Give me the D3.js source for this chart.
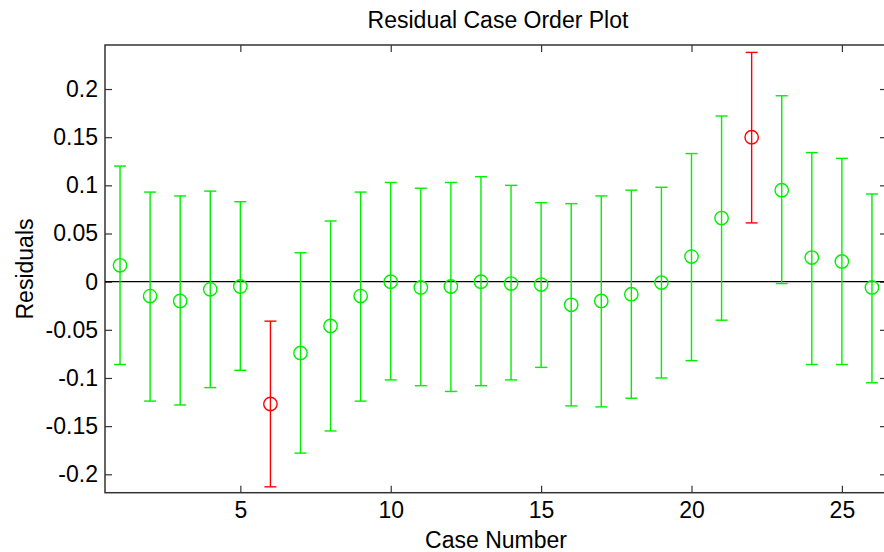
<!DOCTYPE html>
<html>
<head>
<meta charset="utf-8">
<script src="https://cdn.jsdelivr.net/npm/d3@7"></script>
<style>
  body { margin: 0; background: #fff; }
  svg { display: block; }
</style>
</head>
<body>
<div></div>
<script>
// residuals with their confidence intervals
var caseNo = [1, 2, 3, 4, 5, 6, 7, 8, 9, 10, 11, 12, 13, 14, 15, 16, 17, 18, 19, 20, 21, 22, 23, 24, 25, 26];
var resid = [0.017, -0.015, -0.020, -0.008, -0.005, -0.127, -0.074, -0.046, -0.015, 0.000,
             -0.006, -0.005, 0.000, -0.002, -0.003, -0.024, -0.020, -0.013, -0.001, 0.026,
             0.066, 0.150, 0.095, 0.025, 0.021, -0.006];
var ciLow = [-0.086, -0.124, -0.128, -0.110, -0.092, -0.213, -0.178, -0.155, -0.124, -0.102,
             -0.108, -0.114, -0.108, -0.102, -0.089, -0.129, -0.130, -0.121, -0.100, -0.082,
             -0.040, 0.061, -0.002, -0.086, -0.086, -0.105];
var ciHigh = [0.120, 0.093, 0.089, 0.094, 0.083, -0.041, 0.030, 0.063, 0.093, 0.103,
              0.097, 0.103, 0.109, 0.100, 0.082, 0.081, 0.089, 0.095, 0.098, 0.133,
              0.172, 0.238, 0.193, 0.134, 0.128, 0.091];
var xTicks = [5, 10, 15, 20, 25];
var yTicks = [-0.2, -0.15, -0.1, -0.05, 0, 0.05, 0.1, 0.15, 0.2];

var data = caseNo.map(function(c, i) {
    return {c: c, r: resid[i], lo: ciLow[i], hi: ciHigh[i]};
});

var width = 884, height = 552;
var plot = {left: 105, right: 887, top: 45, bottom: 492.7};

var x = d3.scaleLinear().domain([0.5, 26.5]).range([plot.left, plot.right]);
var y = d3.scaleLinear().domain([-0.2191, 0.2457]).range([plot.bottom, plot.top]);

var svg = d3.select("body").select("div").append("svg")
    .attr("width", width)
    .attr("height", height)
    .style("font-family", "Liberation Sans, Arial, sans-serif");

// outlier = interval does not contain zero
function col(d) { return (d.lo > 0 || d.hi < 0) ? "#ff0000" : "#00ee00"; }

// axes (ticks point inward)
var fmt = function(d) { return String(+d.toFixed(2)); };

svg.append("g")
    .attr("transform", "translate(" + plot.left + ",0)")
    .call(d3.axisLeft(y).tickValues(yTicks).tickSize(-7).tickPadding(7).tickFormat(fmt))
    .call(function(g) { g.select(".domain").remove(); });

svg.append("g")
    .attr("transform", "translate(" + plot.right + ",0)")
    .call(d3.axisRight(y).tickValues(yTicks).tickSize(-7).tickFormat(""))
    .call(function(g) { g.select(".domain").remove(); });

svg.append("g")
    .attr("transform", "translate(0," + plot.bottom + ")")
    .call(d3.axisBottom(x).tickValues(xTicks).tickSize(-7).tickPadding(9).tickFormat(d3.format("d")))
    .call(function(g) { g.select(".domain").remove(); });

svg.append("g")
    .attr("transform", "translate(0," + plot.top + ")")
    .call(d3.axisTop(x).tickValues(xTicks).tickSize(-7).tickFormat(""))
    .call(function(g) { g.select(".domain").remove(); });

svg.selectAll(".tick line").attr("stroke", "#333").attr("stroke-width", 1.2);
svg.selectAll(".tick text")
    .attr("fill", "#000")
    .style("font-size", "23px")
    .style("font-family", "Liberation Sans, Arial, sans-serif");

// box
svg.append("rect")
    .attr("x", plot.left)
    .attr("y", plot.top)
    .attr("width", plot.right - plot.left)
    .attr("height", plot.bottom - plot.top)
    .attr("fill", "none")
    .attr("stroke", "#333")
    .attr("stroke-width", 1.5);

// zero line
svg.append("line")
    .attr("x1", plot.left).attr("x2", plot.right)
    .attr("y1", y(0)).attr("y2", y(0))
    .attr("stroke", "#000")
    .attr("stroke-width", 1.2);

// error bars
var bars = svg.append("g").selectAll("g")
    .data(data)
    .enter().append("g")
    .attr("stroke", col)
    .attr("stroke-width", 1.4)
    .attr("fill", "none");

bars.append("line")
    .attr("x1", function(d) { return x(d.c); })
    .attr("x2", function(d) { return x(d.c); })
    .attr("y1", function(d) { return y(d.lo); })
    .attr("y2", function(d) { return y(d.hi); });

bars.append("line")
    .attr("x1", function(d) { return x(d.c) - 6; })
    .attr("x2", function(d) { return x(d.c) + 6; })
    .attr("y1", function(d) { return y(d.lo); })
    .attr("y2", function(d) { return y(d.lo); });

bars.append("line")
    .attr("x1", function(d) { return x(d.c) - 6; })
    .attr("x2", function(d) { return x(d.c) + 6; })
    .attr("y1", function(d) { return y(d.hi); })
    .attr("y2", function(d) { return y(d.hi); });

bars.append("circle")
    .attr("cx", function(d) { return x(d.c); })
    .attr("cy", function(d) { return y(d.r); })
    .attr("r", 6.7);

// title and labels
svg.append("text")
    .text("Residual Case Order Plot")
    .attr("x", 498)
    .attr("y", 28)
    .style("text-anchor", "middle")
    .style("font-size", "23px");

svg.append("text")
    .text("Case Number")
    .attr("x", 496)
    .attr("y", 548)
    .style("text-anchor", "middle")
    .style("font-size", "23px");

svg.append("text")
    .text("Residuals")
    .attr("transform", "translate(33," + 269 + ") rotate(-90)")
    .style("text-anchor", "middle")
    .style("font-size", "23px");
</script>
</body>
</html>
